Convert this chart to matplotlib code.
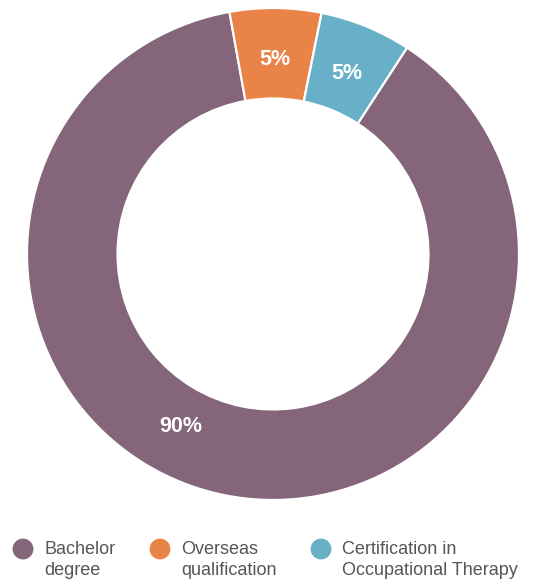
import numpy as np
import matplotlib
matplotlib.use("Agg")
import matplotlib.pyplot as plt

categories = ["Bachelor degree", "Overseas qualification", "Certification in Occupational Therapy"]
legend_labels = ["Bachelor\ndegree", "Overseas\nqualification", "Certification in\nOccupational Therapy"]
values = [88, 6, 6]
value_labels = ["90%", "5%", "5%"]
colors = ["#84657a", "#ea8348", "#68b0c8"]

W, H = 540, 580
fig = plt.figure(figsize=(W / 100, H / 100), dpi=100)
fig.patch.set_facecolor("white")

cx, cy, R = 273, 254, 246
ax = fig.add_axes([(cx - R) / W, (H - cy - R) / H, 2 * R / W, 2 * R / H])
wedges, _ = ax.pie(values, colors=colors, startangle=57, counterclock=False,
                   radius=1.0, wedgeprops=dict(width=1 - 0.632, edgecolor="white", linewidth=1.6))
ax.set_xlim(-1, 1)
ax.set_ylim(-1, 1)
ax.set_aspect("equal")
ax.axis("off")

label_r = 0.80
for i, (w, lab) in enumerate(zip(wedges, value_labels)):
    if i == 0:
        ang = np.deg2rad(-118.5)
        r = 0.79
    else:
        ang = np.deg2rad((w.theta1 + w.theta2) / 2)
        r = label_r
    ax.text(r * np.cos(ang), r * np.sin(ang) - 0.008, lab, ha="center", va="center",
            color="white", fontsize=15.5, fontweight="bold", family=["Liberation Sans", "DejaVu Sans"])

# legend overlay in pixel coordinates
lax = fig.add_axes([0, 0, 1, 1])
lax.set_xlim(0, W)
lax.set_ylim(H, 0)
lax.axis("off")
lx = [23, 160, 321]
for x, c, lab in zip(lx, colors, legend_labels):
    lax.scatter([x], [549], s=225, color=c, edgecolors="none")
    lax.text(x + 21, 541, lab, ha="left", va="top", fontsize=13, color="#555555",
             linespacing=1.32, family=["Liberation Sans", "DejaVu Sans"])

fig.savefig("out.png", dpi=100, facecolor="white")
